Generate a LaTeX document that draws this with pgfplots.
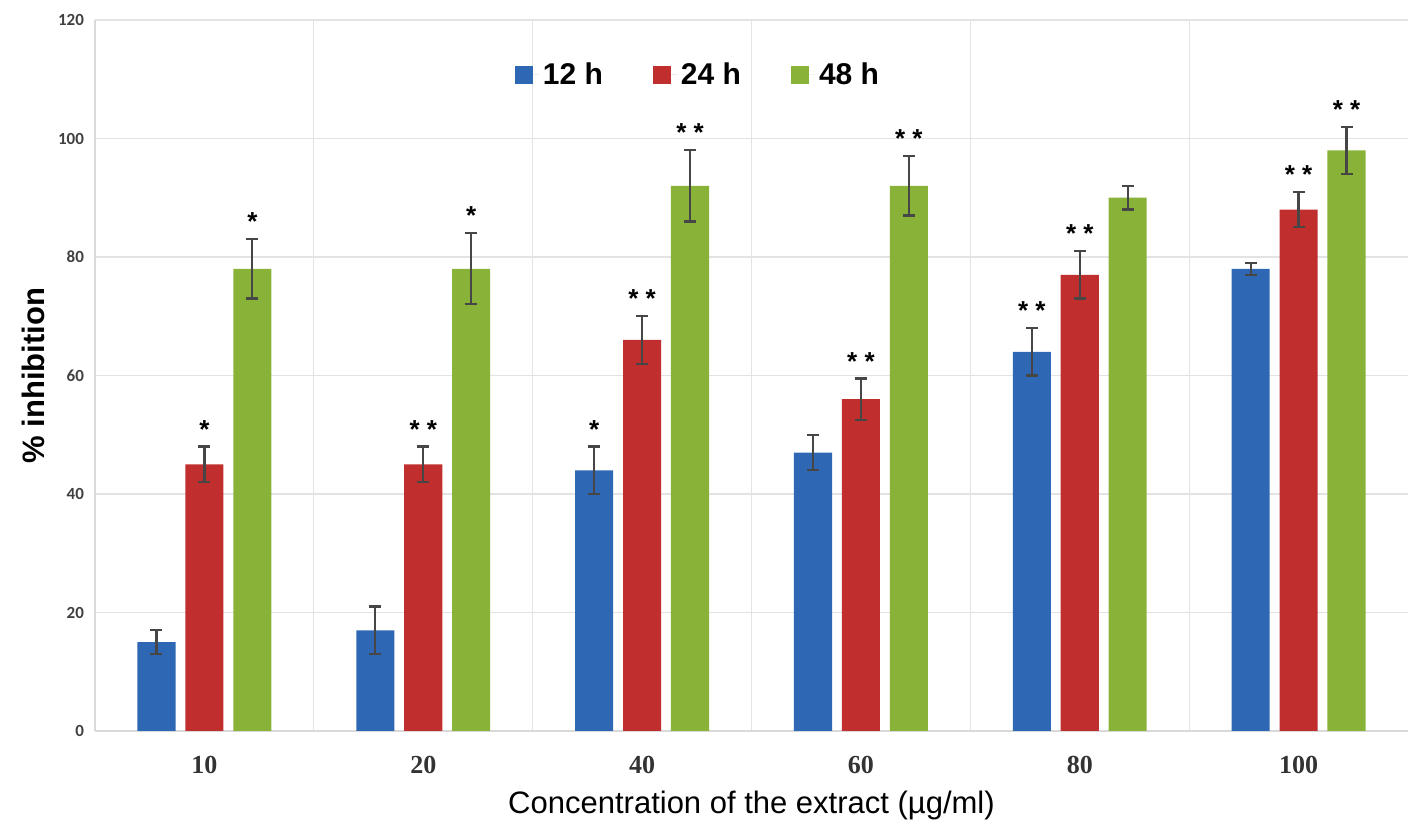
\documentclass[border=0pt]{standalone}
\usepackage{fontspec}
\setmainfont{Liberation Sans}
\newfontfamily\carlito{Carlito}
\newfontfamily\serifb{Liberation Serif}
\usepackage{pgfplots}
\usepackage{pgfplotstable}
\pgfplotsset{compat=1.18}
\definecolor{cblue}{RGB}{46,104,180}
\definecolor{cred}{RGB}{192,46,46}
\definecolor{cgreen}{RGB}{137,178,56}
\definecolor{errc}{RGB}{70,70,70}
\pgfplotstableread{
x y err
0 15 2
1 17 4
2 44 4
3 47 3
4 64 4
5 78 1
}\tblue
\pgfplotstableread{
x y err
0 45 3
1 45 3
2 66 4
3 56 3.5
4 77 4
5 88 3
}\tred
\pgfplotstableread{
x y err
0 78 5
1 78 6
2 92 6
3 92 5
4 90 2
5 98 4
}\tgreen
\pgfplotsset{
  errplot/.style={forget plot, draw=none, mark=none,
    error bars/.cd, y dir=both, y explicit,
    error bar style={errc, line width=1.1pt},
    error mark options={errc, rotate=90, mark size=3pt, line width=1.1pt}},
}
\begin{document}
\begin{tikzpicture}
\begin{axis}[
  scale only axis,
  width=656.5pt, height=355.5pt,
  xmin=-0.5, xmax=5.5, ymin=0, ymax=120,
  xtick={0,1,2,3,4,5},
  xticklabels={10,20,40,60,80,100},
  minor xtick={0.5,1.5,2.5,3.5,4.5},
  ytick={0,20,...,120},
  xminorgrids, ymajorgrids,
  grid style={gray!22, line width=0.6pt},
  minor grid style={gray!22, line width=0.6pt},
  axis x line*=bottom, axis y line*=left,
  axis line style={gray!30, line width=0.6pt},
  major tick length=0pt, minor tick length=0pt,
  /pgf/number format/assume math mode=true,
  yticklabel style={font=\carlito\bfseries\fontsize{8.5}{10}\selectfont, text=black!75, xshift=-2pt},
  xticklabel style={font=\serifb\bfseries\fontsize{13}{15}\selectfont, text=black!80, yshift=-9pt},
  xlabel={Concentration of the extract (µg/ml)},
  ylabel={\bfseries \% inhibition},
  xlabel style={font=\fontsize{15.5}{18}\selectfont, yshift=-2pt},
  ylabel style={font=\fontsize{15.5}{18}\selectfont, yshift=0pt},
  legend style={draw=none, fill=none, at={(0.46,0.923)}, anchor=center,
    font=\bfseries\fontsize{15}{18}\selectfont,
    /tikz/every even column/.append style={column sep=23pt}},
  legend columns=3,
  legend image code/.code={\fill[#1] (0pt,-4.5pt) rectangle (9pt,4.5pt); \path (0pt,0pt) -- (12pt,0pt);},
]
\addplot[ybar, bar width=0.174, bar shift=-0.219, fill=cblue, draw=none]
  table[x=x, y=y]{\tblue};
\addlegendentry{12 h}
\addplot[ybar, bar width=0.174, bar shift=0, fill=cred, draw=none]
  table[x=x, y=y]{\tred};
\addlegendentry{24 h}
\addplot[ybar, bar width=0.174, bar shift=0.219, fill=cgreen, draw=none]
  table[x=x, y=y]{\tgreen};
\addlegendentry{48 h}
% error bars
\addplot[errplot] table[x expr=\thisrow{x}-0.219, y=y, y error=err]{\tblue};
\addplot[errplot] table[x=x, y=y, y error=err]{\tred};
\addplot[errplot] table[x expr=\thisrow{x}+0.219, y=y, y error=err]{\tgreen};
% significance stars
\addplot[forget plot, draw=none, mark=none, nodes near coords={*},
  every node near coord/.append style={anchor=south, inner sep=0pt, yshift=4pt, font=\bfseries\fontsize{13}{15}\selectfont}]
  coordinates {(0,48) (0.219,83) (1.219,84) (1.781,48)};
\addplot[forget plot, draw=none, mark=none, nodes near coords={*\ *},
  every node near coord/.append style={anchor=south, inner sep=0pt, yshift=4pt, font=\bfseries\fontsize{13}{15}\selectfont}]
  coordinates {(1,48) (2,70) (2.219,98) (3,59.5) (3.219,97) (3.781,68) (4,81) (5,91) (5.219,102)};
\end{axis}
\pgfresetboundingbox
\path ([shift={(-47.5pt,-53.5pt)}]current axis.south west) rectangle ([shift={(4.5pt,10pt)}]current axis.north east);
\end{tikzpicture}
\end{document}
